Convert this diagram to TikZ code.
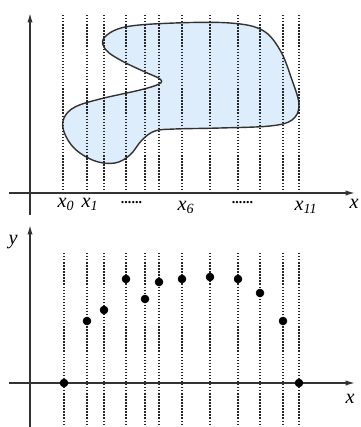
\documentclass[tikz,border=0pt]{standalone}
\usepackage{fontspec}
\setmainfont{Liberation Serif}
\usetikzlibrary{arrows.meta}
\definecolor{regionblue}{RGB}{222,237,251}
\tikzset{
  axis/.style={line width=1.2pt, draw=black!80, -{Latex[length=8pt,width=4.5pt]}},
  grid line/.style={line width=1.1pt, draw=black!85, dash pattern=on 1.2pt off 1.4pt},
  sample/.style={fill=black},
  lbl/.style={font=\LARGE\itshape, inner sep=1pt}
}
\begin{document}
\begin{tikzpicture}[x=0.03cm,y=-0.03cm]
\useasboundingbox (0,0) rectangle (360,427);

% upper picture: the region
\filldraw[fill=regionblue, draw=black!80, line width=1.2pt]
  plot[smooth cycle, tension=0.6] coordinates {
   (104,38) (125,27) (175,23) (230,23) (262,30) (280,50) (292,80) (299,105)
   (292,120) (270,126) (220,128) (175,129) (155,131) (142,140) (130,155)
   (115,163) (95,161) (75,149) (64,132) (64,118) (75,107) (100,99) (140,90)
   (159,84) (160,79) (145,72) (122,61) (106,50)};

\foreach \x in {63,87,104,126,145,159,182,210,238,260,283,299}
  \draw[grid line] (\x,15) -- (\x,193);

\draw[axis] (30,215) -- (30,13);
\draw[axis] (9,193) -- (355,193);

\node[lbl] (x0) at (66,204) {x\textsubscript{0}};
\node[lbl] (x1) at (90,204) {x\textsubscript{1}};
\node[lbl] (d1) at (132,203) {\textbf{\large ......}};
\node[lbl] (x6) at (186,207) {x\textsubscript{6}};
\node[lbl] (d2) at (243,203) {\textbf{\large ......}};
\node[lbl] (x11) at (306,207) {x\textsubscript{11}};
\node[lbl] (xa) at (354,204) {x};

% lower picture: the samples
\foreach \x in {64,87,104,126,145,159,182,210,238,260,283,299}
  \draw[grid line] (\x,253) -- (\x,427);

\draw[axis] (30,427) -- (30,225);
\draw[axis] (9,383) -- (355,383);
\node[lbl] (yb) at (13,242) {y};
\node[lbl] (xb) at (350,399) {x};

\foreach \x/\y in {64/383,87/321,104/310,126/279,145/299,159/282,182/279,
                   210/277,238/279,260/293,283/321,299/383}
  \filldraw[sample] (\x,\y) circle (4);
\end{tikzpicture}
\end{document}
